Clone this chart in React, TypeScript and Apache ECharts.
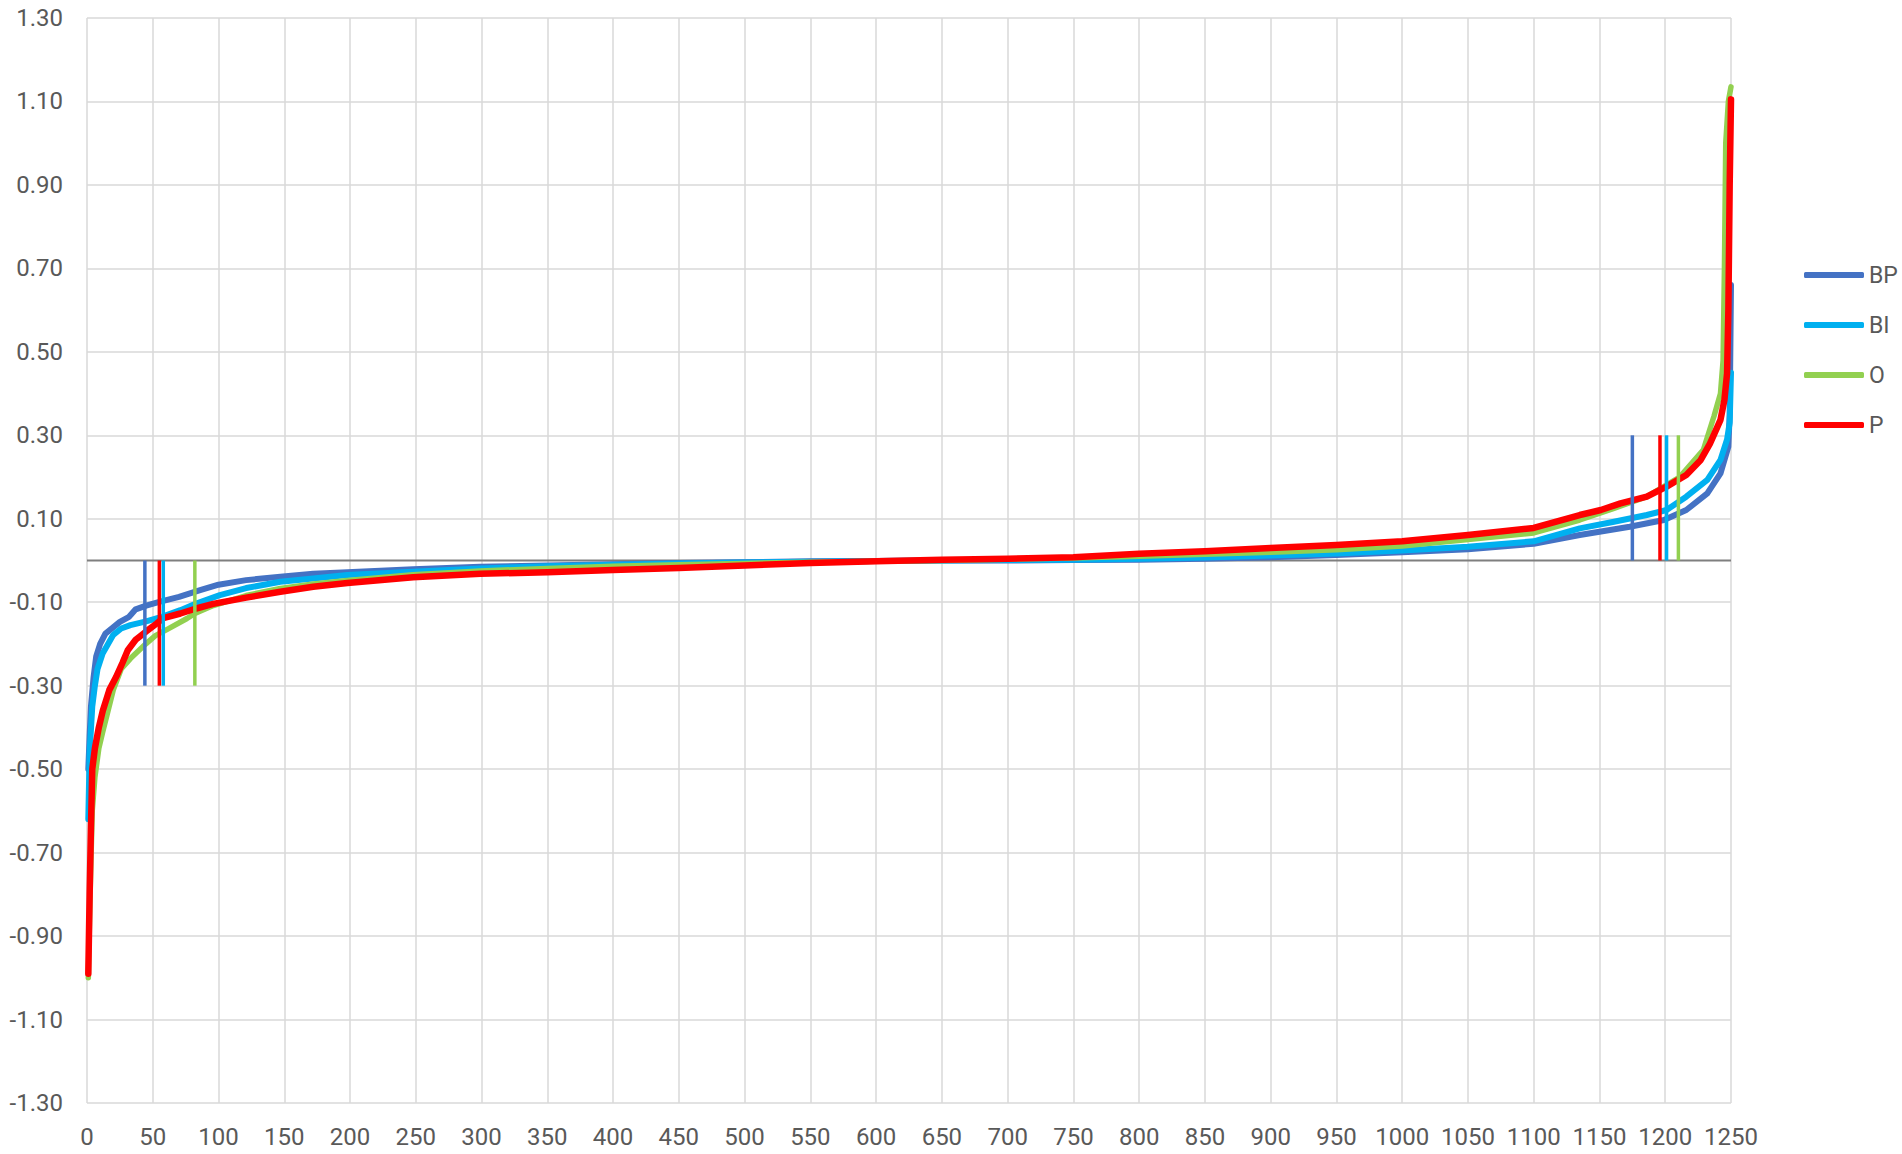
import React, { useEffect, useRef } from "react";
import * as echarts from "echarts";

// Ranked values (rank, value)
const seriesNames = ["BP", "BI", "O", "P"];
const seriesColors = ["#4472C4", "#00B0F0", "#92D050", "#FF0000"];
const seriesWidths = [6, 6, 5.5, 6.5];

const bpData: [number, number][] = [
  [1, -0.5], [2, -0.42], [3, -0.35], [5, -0.28], [7, -0.23], [10, -0.2], [14, -0.175], [18, -0.165],
  [25, -0.147], [32, -0.135], [37, -0.117], [45, -0.108], [55, -0.099], [70, -0.087], [86, -0.071],
  [100, -0.058], [121, -0.047], [147, -0.039], [172, -0.032], [198, -0.028], [248, -0.021], [299, -0.015],
  [350, -0.012], [400, -0.009], [450, -0.006], [500, -0.004], [550, -0.002], [600, -0.001], [650, 0],
  [700, 0], [750, 0.001], [800, 0.002], [850, 0.004], [900, 0.008], [950, 0.013], [1000, 0.02],
  [1050, 0.027], [1100, 0.04], [1135, 0.061], [1173, 0.081], [1199, 0.097], [1216, 0.121], [1232, 0.161],
  [1242, 0.209], [1248, 0.273], [1249, 0.35], [1250, 0.66],
];

const biData: [number, number][] = [
  [1, -0.62], [2, -0.46], [4, -0.35], [6, -0.3], [8, -0.26], [12, -0.222], [16, -0.2], [20, -0.178],
  [26, -0.163], [33, -0.155], [45, -0.146], [58, -0.134], [71, -0.119], [83, -0.103], [101, -0.083],
  [121, -0.066], [147, -0.051], [172, -0.043], [198, -0.035], [248, -0.027], [299, -0.019], [350, -0.014],
  [400, -0.01], [450, -0.007], [500, -0.005], [550, -0.003], [600, -0.001], [700, 0.001], [750, 0.002],
  [800, 0.004], [850, 0.007], [900, 0.012], [950, 0.017], [1000, 0.024], [1050, 0.033], [1100, 0.046],
  [1135, 0.077], [1161, 0.093], [1186, 0.109], [1201, 0.121], [1216, 0.153], [1232, 0.193], [1242, 0.241],
  [1247, 0.29], [1249, 0.33], [1250, 0.45],
];

const oData: [number, number][] = [
  [1, -1.0], [2, -0.85], [3, -0.72], [4, -0.6], [6, -0.52], [9, -0.45], [12, -0.41], [16, -0.36],
  [20, -0.31], [26, -0.26], [33, -0.235], [45, -0.199], [52, -0.18], [61, -0.165], [76, -0.139],
  [82, -0.127], [96, -0.108], [121, -0.084], [147, -0.067], [172, -0.056], [198, -0.048], [248, -0.034],
  [299, -0.025], [350, -0.019], [400, -0.014], [450, -0.01], [500, -0.007], [550, -0.004], [600, -0.002],
  [650, 0], [700, 0.003], [750, 0.006], [800, 0.01], [850, 0.015], [900, 0.02], [950, 0.026], [1000, 0.035],
  [1050, 0.05], [1100, 0.066], [1135, 0.097], [1161, 0.125], [1186, 0.153], [1211, 0.2], [1229, 0.265],
  [1237, 0.345], [1242, 0.4], [1244, 0.48], [1245, 0.7], [1246, 1.0], [1248, 1.1], [1250, 1.135],
];

const pData: [number, number][] = [
  [1, -0.99], [2, -0.8], [3, -0.64], [4, -0.5], [6, -0.45], [9, -0.4], [12, -0.36], [17, -0.31],
  [22, -0.28], [27, -0.245], [31, -0.215], [37, -0.19], [45, -0.17], [53, -0.151], [58, -0.138],
  [71, -0.127], [83, -0.115], [96, -0.104], [121, -0.089], [147, -0.075], [172, -0.063], [198, -0.054],
  [248, -0.04], [299, -0.032], [350, -0.028], [400, -0.023], [450, -0.018], [500, -0.012], [550, -0.006],
  [600, -0.002], [650, 0.002], [700, 0.004], [750, 0.008], [800, 0.016], [850, 0.022], [900, 0.03],
  [950, 0.037], [1000, 0.046], [1050, 0.061], [1100, 0.078], [1135, 0.109], [1151, 0.121], [1166, 0.137],
  [1186, 0.153], [1201, 0.177], [1216, 0.205], [1227, 0.241], [1234, 0.28], [1242, 0.337], [1245, 0.385],
  [1247, 0.448], [1248, 0.6], [1249, 0.9], [1250, 1.105],
];

// Cut-off ranks drawn as short vertical markers
const lowerCuts = [44, 58, 82, 55];
const upperCuts = [1175, 1201, 1210, 1196];
const lowerCutValue = -0.3;
const upperCutValue = 0.3;

// Axes
const xMin = 0;
const xMax = 1250;
const xStep = 50;
const yMin = -1.3;
const yMax = 1.3;
const yStep = 0.2;

const FONT = "Roboto, 'Noto Sans', sans-serif";
const TEXT_COLOR = "#595959";
const GRID_COLOR = "#D9D9D9";

export default function App() {
  const ref = useRef<HTMLDivElement>(null);

  useEffect(() => {
    if (!ref.current) return;
    const chart = echarts.init(ref.current, undefined, { renderer: "svg" });
    const dataSets = [bpData, biData, oData, pData];

    const mainSeries = seriesNames.map((name, i) => ({
      name,
      type: "line",
      data: dataSets[i],
      showSymbol: false,
      symbol: "none",
      lineStyle: { color: seriesColors[i], width: seriesWidths[i], cap: "round", join: "round" },
      itemStyle: { color: seriesColors[i] },
      z: 3 + i,
      silent: true,
    }));

    const markerSeries: any[] = [];
    seriesNames.forEach((name, i) => {
      markerSeries.push({
        name: name + "_low",
        type: "line",
        data: [[lowerCuts[i], 0], [lowerCuts[i], lowerCutValue]],
        symbol: "none",
        lineStyle: { color: seriesColors[i], width: 3.5 },
        z: 10,
        silent: true,
      });
      markerSeries.push({
        name: name + "_high",
        type: "line",
        data: [[upperCuts[i], 0], [upperCuts[i], upperCutValue]],
        symbol: "none",
        lineStyle: { color: seriesColors[i], width: 3.5 },
        z: 10,
        silent: true,
      });
    });

    const zeroLine = {
      name: "zero",
      type: "line",
      data: [[xMin, 0], [xMax, 0]],
      symbol: "none",
      lineStyle: { color: "#7F7F7F", width: 2 },
      z: 2,
      silent: true,
    };

    chart.setOption({
      animation: false,
      backgroundColor: "#FFFFFF",
      grid: { left: 87, right: 171, top: 18, bottom: 51, containLabel: false },
      legend: {
        data: seriesNames,
        orient: "vertical",
        left: 1804,
        top: 263,
        padding: 0,
        itemWidth: 60,
        itemHeight: 6,
        itemGap: 26,
        icon: "roundRect",
        textStyle: { fontFamily: FONT, fontSize: 23, color: TEXT_COLOR, lineHeight: 24 },
        selectedMode: false,
      },
      xAxis: {
        type: "value",
        min: xMin,
        max: xMax,
        interval: xStep,
        axisLine: { show: false },
        axisTick: { show: false },
        splitLine: { show: true, lineStyle: { color: GRID_COLOR, width: 1.5 } },
        axisLabel: {
          fontFamily: FONT,
          fontSize: 24,
          color: TEXT_COLOR,
          margin: 22,
          formatter: (v: number) => String(Math.round(v)),
        },
      },
      yAxis: {
        type: "value",
        min: yMin,
        max: yMax,
        interval: yStep,
        axisLine: { show: false },
        axisTick: { show: false },
        splitLine: { show: true, lineStyle: { color: GRID_COLOR, width: 1.5 } },
        axisLabel: {
          fontFamily: FONT,
          fontSize: 24,
          color: TEXT_COLOR,
          margin: 24,
          formatter: (v: number) => v.toFixed(2),
        },
      },
      series: [zeroLine, ...mainSeries, ...markerSeries],
    });

    return () => chart.dispose();
  }, []);

  return (
    <div
      ref={ref}
      style={{ position: "absolute", left: 0, top: 0, width: 1902, height: 1154, background: "#fff" }}
    />
  );
}
